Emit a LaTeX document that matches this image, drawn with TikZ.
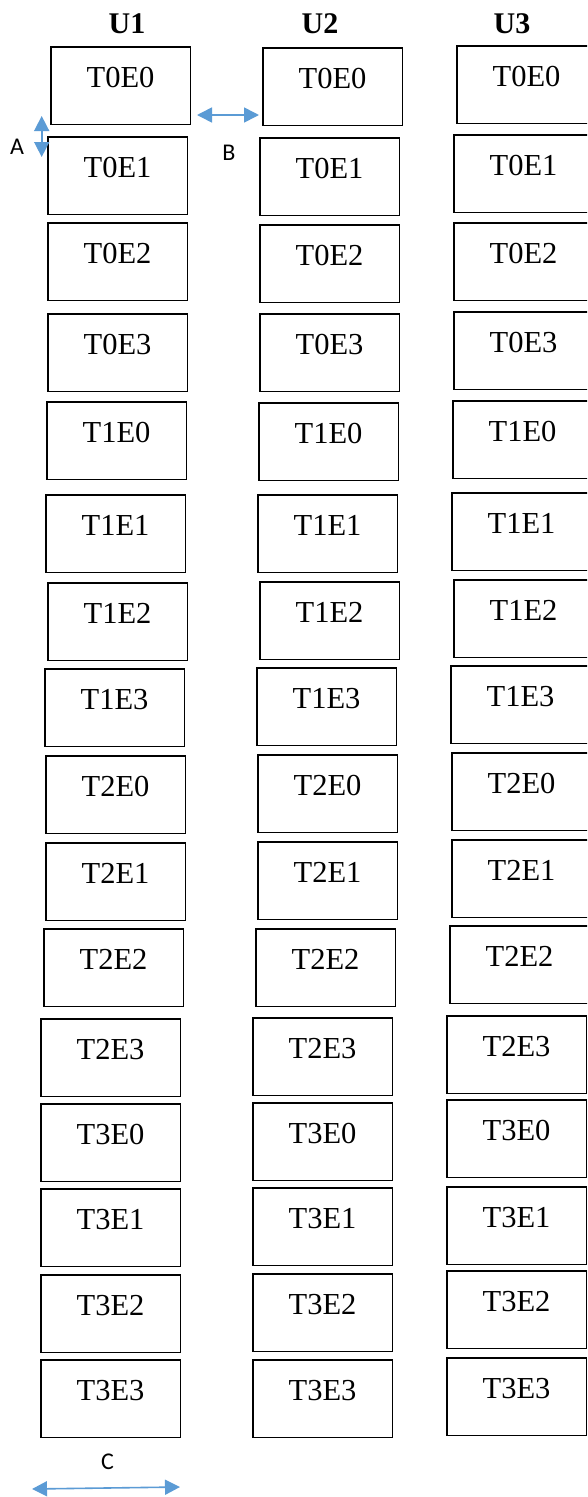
\documentclass[tikz,border=0pt]{standalone}
\usepackage{fontspec}
\setmainfont{Liberation Serif}
\newfontfamily\calfont{Carlito}
\usetikzlibrary{arrows.meta}
\definecolor{arrowblue}{HTML}{5B9BD5}
\begin{document}
\begin{tikzpicture}[x=1pt,y=-1pt,
  cell/.style={draw=black, line width=1.7pt, minimum width=139.5pt, minimum height=77.5pt,
    inner sep=0pt, anchor=north west, font=\fontsize{30.5}{36}\selectfont,
    text height=20pt, text depth=15.5pt},
  head/.style={font=\fontsize{30}{36}\selectfont\bfseries, anchor=base, inner sep=0pt},
  tag/.style={font=\calfont\fontsize{24}{28}\selectfont, anchor=base, inner sep=0pt},
  dimarrow/.style={draw=arrowblue, line width=1.6pt,
    {Triangle[length=15pt,width=15pt]}-{Triangle[length=15pt,width=15pt]}}
]
\useasboundingbox (0,0) rectangle (587,1497);
\clip (0,0) rectangle (587,1497);
\fill[white] (0,0) rectangle (587,1497);

% column headers
\node[head] (u1) at (127,33) {U1};
\node[head] (u2) at (320,33) {U2};
\node[head] (u3) at (512,33) {U3};

% column 1
\foreach \n/\lab/\x/\y in {
  c1r0/T0E0/50/46, c1r1/T0E1/47/136, c1r2/T0E2/47/222, c1r3/T0E3/47/313,
  c1r4/T1E0/46/401, c1r5/T1E1/45/494, c1r6/T1E2/47/582, c1r7/T1E3/44/668,
  c1r8/T2E0/45/755, c1r9/T2E1/45/842, c1r10/T2E2/43/928, c1r11/T2E3/40/1018,
  c1r12/T3E0/40/1103, c1r13/T3E1/40/1188, c1r14/T3E2/40/1274, c1r15/T3E3/40/1359}
  \node[cell] (\n) at (\x,\y) {\lab};

% column 2
\foreach \n/\lab/\x/\y in {
  c2r0/T0E0/262/47, c2r1/T0E1/259/137, c2r2/T0E2/259/224, c2r3/T0E3/259/313,
  c2r4/T1E0/258/402, c2r5/T1E1/257/494, c2r6/T1E2/259/581, c2r7/T1E3/256/667,
  c2r8/T2E0/257/754, c2r9/T2E1/257/841, c2r10/T2E2/255/928, c2r11/T2E3/252/1017,
  c2r12/T3E0/252/1102, c2r13/T3E1/252/1187, c2r14/T3E2/252/1273, c2r15/T3E3/252/1359}
  \node[cell] (\n) at (\x,\y) {\lab};

% column 3
\foreach \n/\lab/\x/\y in {
  c3r0/T0E0/456/45, c3r1/T0E1/453/134, c3r2/T0E2/453/222, c3r3/T0E3/453/311,
  c3r4/T1E0/452/400, c3r5/T1E1/451/492, c3r6/T1E2/453/579, c3r7/T1E3/450/665,
  c3r8/T2E0/451/752, c3r9/T2E1/451/839, c3r10/T2E2/449/925, c3r11/T2E3/446/1015,
  c3r12/T3E0/446/1099, c3r13/T3E1/446/1186, c3r14/T3E2/446/1270, c3r15/T3E3/446/1357}
  \node[cell] (\n) at (\x,\y) {\lab};

% dimension labels
\node[tag] (la) at (17,154) {A};
\node[tag] (lb) at (229,160) {B};
\node[tag] (lc) at (107.5,1469) {C};

% dimension arrows
\coordinate (a1) at (41.7,116);
\coordinate (a2) at (41.7,157);
\coordinate (b1) at (197,115);
\coordinate (b2) at (259,115);
\coordinate (k1) at (32,1489);
\coordinate (k2) at (180,1487);
\draw[dimarrow] (a1) -- (a2);
\draw[dimarrow] (b1) -- (b2);
\draw[dimarrow] (k1) -- (k2);
\end{tikzpicture}
\end{document}
